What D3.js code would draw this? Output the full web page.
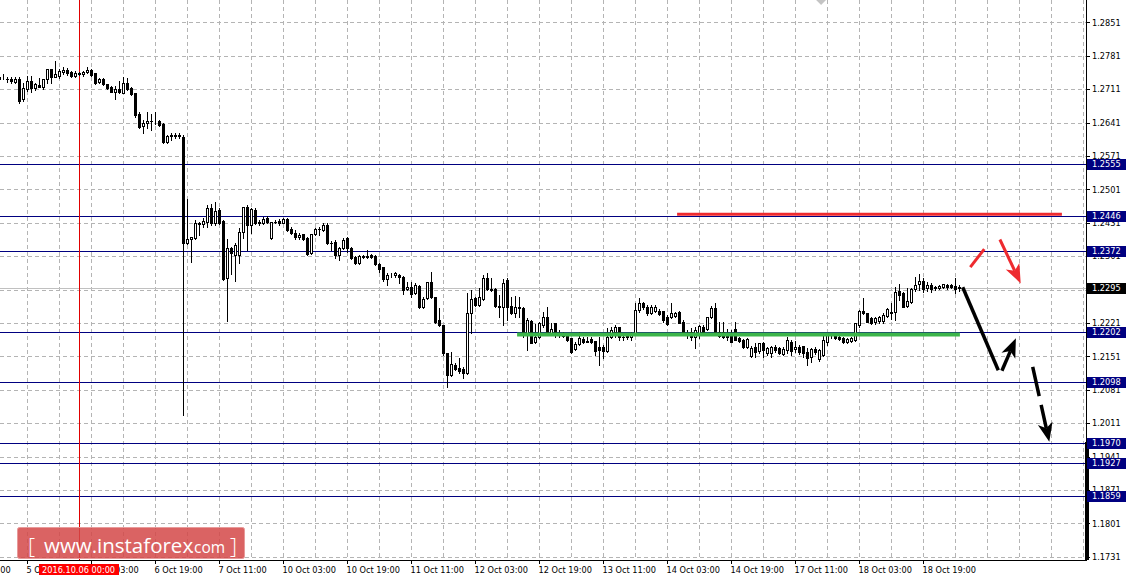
<!DOCTYPE html>
<html><head><meta charset="utf-8">
<script src="https://cdn.jsdelivr.net/npm/d3@7"></script>
<style>html,body{margin:0;padding:0;background:#fff;overflow:hidden}svg{display:block}</style>
</head><body>
<svg id="chart" width="1126" height="579"></svg>
<script>
// ---- DATA ----
// Hourly candles [open, high, low, close]; index 0 = 5 Oct 04:00
const ohlc = [
[1.2737,1.2741,1.2724,1.2732],[1.2736,1.2743,1.2732,1.2737],[1.2733,1.2737,1.2726,1.2732],[1.2733,1.2737,1.2724,1.2728],
[1.2727,1.2736,1.2725,1.2732],[1.2732,1.2736,1.2682,1.2686],[1.2691,1.2724,1.2686,1.2714],[1.2711,1.2739,1.2707,1.2728],
[1.2728,1.2739,1.2705,1.2714],[1.2714,1.2724,1.2709,1.2722],[1.2720,1.2735,1.2715,1.2716],[1.2716,1.2733,1.2711,1.2732],
[1.2732,1.2754,1.2724,1.2753],[1.2753,1.2754,1.2724,1.2737],[1.2737,1.2770,1.2736,1.2743],[1.2739,1.2753,1.2735,1.2749],
[1.2747,1.2758,1.2743,1.2751],[1.2751,1.2755,1.2741,1.2745],[1.2747,1.2749,1.2737,1.2739],[1.2739,1.2749,1.2737,1.2745],
[1.2744,1.2746,1.2741,1.2743],[1.2743,1.2749,1.2739,1.2747],[1.2747,1.2758,1.2745,1.2751],[1.2751,1.2753,1.2739,1.2741],
[1.2745,1.2745,1.2722,1.2724],[1.2726,1.2735,1.2724,1.2732],[1.2733,1.2735,1.2720,1.2722],[1.2722,1.2722,1.2712,1.2714],
[1.2716,1.2718,1.2705,1.2705],[1.2705,1.2718,1.2691,1.2711],[1.2711,1.2728,1.2703,1.2705],[1.2703,1.2737,1.2703,1.2724],
[1.2724,1.2734,1.2710,1.2711],[1.2714,1.2716,1.2699,1.2701],[1.2703,1.2703,1.2653,1.2657],[1.2659,1.2663,1.2630,1.2632],
[1.2634,1.2646,1.2619,1.2640],[1.2640,1.2663,1.2630,1.2644],[1.2645,1.2659,1.2625,1.2644],[1.2644,1.2663,1.2638,1.2645],
[1.2644,1.2646,1.2634,1.2636],[1.2638,1.2640,1.2598,1.2600],[1.2600,1.2615,1.2598,1.2613],[1.2613,1.2619,1.2605,1.2615],
[1.2615,1.2619,1.2609,1.2613],[1.2613,1.2619,1.2609,1.2615],[1.2611,1.2615,1.2028,1.2389],[1.2389,1.2481,1.2387,1.2397],
[1.2397,1.2402,1.2349,1.2401],[1.2399,1.2437,1.2397,1.2431],[1.2431,1.2432,1.2405,1.2428],[1.2428,1.2441,1.2422,1.2435],
[1.2433,1.2468,1.2422,1.2462],[1.2462,1.2470,1.2426,1.2431],[1.2431,1.2475,1.2426,1.2456],[1.2458,1.2462,1.2428,1.2431],
[1.2435,1.2437,1.2311,1.2313],[1.2315,1.2397,1.2225,1.2378],[1.2378,1.2380,1.2324,1.2368],[1.2363,1.2389,1.2309,1.2384],
[1.2363,1.2420,1.2347,1.2412],[1.2412,1.2464,1.2399,1.2464],[1.2464,1.2468,1.2374,1.2426],[1.2426,1.2462,1.2410,1.2460],
[1.2458,1.2462,1.2428,1.2431],[1.2433,1.2437,1.2426,1.2431],[1.2431,1.2443,1.2428,1.2439],[1.2441,1.2445,1.2431,1.2433],
[1.2399,1.2433,1.2397,1.2433],[1.2433,1.2437,1.2430,1.2432],[1.2435,1.2439,1.2426,1.2431],[1.2431,1.2441,1.2430,1.2439],
[1.2439,1.2441,1.2414,1.2416],[1.2418,1.2422,1.2408,1.2410],[1.2410,1.2416,1.2397,1.2401],[1.2401,1.2410,1.2397,1.2405],
[1.2408,1.2408,1.2395,1.2397],[1.2399,1.2401,1.2364,1.2366],[1.2368,1.2408,1.2366,1.2408],[1.2408,1.2420,1.2405,1.2418],
[1.2418,1.2422,1.2405,1.2417],[1.2416,1.2431,1.2414,1.2426],[1.2426,1.2431,1.2387,1.2389],[1.2389,1.2393,1.2374,1.2388],
[1.2391,1.2395,1.2357,1.2363],[1.2363,1.2380,1.2353,1.2378],[1.2378,1.2399,1.2376,1.2395],[1.2399,1.2401,1.2370,1.2378],
[1.2378,1.2380,1.2355,1.2357],[1.2359,1.2361,1.2345,1.2347],[1.2347,1.2363,1.2345,1.2361],[1.2361,1.2363,1.2357,1.2359],
[1.2359,1.2374,1.2357,1.2361],[1.2363,1.2365,1.2357,1.2359],[1.2361,1.2363,1.2343,1.2345],[1.2345,1.2347,1.2328,1.2334],
[1.2338,1.2338,1.2309,1.2313],[1.2313,1.2326,1.2300,1.2322],[1.2323,1.2326,1.2317,1.2324],[1.2322,1.2328,1.2317,1.2326],
[1.2322,1.2324,1.2305,1.2317],[1.2317,1.2319,1.2282,1.2290],[1.2292,1.2307,1.2290,1.2296],[1.2296,1.2307,1.2275,1.2282],
[1.2284,1.2305,1.2282,1.2301],[1.2299,1.2301,1.2253,1.2255],[1.2255,1.2275,1.2253,1.2271],[1.2273,1.2307,1.2271,1.2307],
[1.2307,1.2328,1.2273,1.2275],[1.2275,1.2275,1.2221,1.2223],[1.2227,1.2252,1.2215,1.2217],[1.2217,1.2217,1.2154,1.2158],
[1.2158,1.2158,1.2087,1.2112],[1.2112,1.2160,1.2110,1.2135],[1.2133,1.2137,1.2122,1.2125],[1.2127,1.2148,1.2116,1.2120],
[1.2125,1.2129,1.2106,1.2116],[1.2116,1.2284,1.2114,1.2242],[1.2242,1.2290,1.2200,1.2271],[1.2273,1.2275,1.2257,1.2259],
[1.2259,1.2294,1.2257,1.2275],[1.2271,1.2322,1.2269,1.2315],[1.2315,1.2326,1.2290,1.2292],[1.2292,1.2315,1.2288,1.2291],
[1.2292,1.2294,1.2255,1.2257],[1.2256,1.2280,1.2234,1.2255],[1.2255,1.2313,1.2217,1.2305],[1.2311,1.2315,1.2227,1.2255],
[1.2257,1.2275,1.2240,1.2242],[1.2242,1.2278,1.2234,1.2255],[1.2254,1.2275,1.2234,1.2253],[1.2253,1.2255,1.2192,1.2200],
[1.2200,1.2231,1.2164,1.2227],[1.2225,1.2227,1.2179,1.2179],[1.2181,1.2219,1.2179,1.2192],[1.2192,1.2223,1.2190,1.2221],
[1.2217,1.2244,1.2213,1.2234],[1.2234,1.2255,1.2196,1.2200],[1.2200,1.2221,1.2196,1.2208],[1.2221,1.2221,1.2192,1.2200],
[1.2196,1.2206,1.2192,1.2195],[1.2194,1.2202,1.2192,1.2193],[1.2196,1.2196,1.2183,1.2185],[1.2190,1.2190,1.2158,1.2160],
[1.2166,1.2181,1.2164,1.2177],[1.2177,1.2202,1.2175,1.2190],[1.2187,1.2192,1.2179,1.2181],[1.2183,1.2192,1.2181,1.2182],
[1.2187,1.2192,1.2179,1.2181],[1.2183,1.2183,1.2154,1.2162],[1.2171,1.2192,1.2133,1.2164],[1.2171,1.2175,1.2148,1.2162],
[1.2162,1.2211,1.2160,1.2192],[1.2192,1.2213,1.2190,1.2206],[1.2202,1.2217,1.2192,1.2213],[1.2213,1.2213,1.2185,1.2192],
[1.2192,1.2200,1.2185,1.2191],[1.2198,1.2200,1.2187,1.2192],[1.2192,1.2202,1.2185,1.2200],[1.2200,1.2263,1.2198,1.2248],
[1.2248,1.2273,1.2244,1.2263],[1.2263,1.2265,1.2250,1.2255],[1.2255,1.2259,1.2238,1.2242],[1.2242,1.2259,1.2240,1.2255],
[1.2246,1.2259,1.2244,1.2255],[1.2246,1.2250,1.2238,1.2240],[1.2246,1.2246,1.2223,1.2227],[1.2234,1.2238,1.2217,1.2219],
[1.2234,1.2263,1.2231,1.2242],[1.2236,1.2244,1.2234,1.2242],[1.2244,1.2246,1.2221,1.2221],[1.2223,1.2227,1.2198,1.2200],
[1.2200,1.2206,1.2190,1.2199],[1.2202,1.2210,1.2185,1.2192],[1.2192,1.2213,1.2169,1.2206],[1.2200,1.2217,1.2190,1.2215],
[1.2213,1.2217,1.2200,1.2202],[1.2208,1.2234,1.2206,1.2234],[1.2234,1.2257,1.2232,1.2253],[1.2253,1.2263,1.2196,1.2200],
[1.2202,1.2223,1.2192,1.2194],[1.2202,1.2223,1.2190,1.2192],[1.2200,1.2208,1.2185,1.2192],[1.2200,1.2206,1.2181,1.2181],
[1.2208,1.2223,1.2185,1.2185],[1.2190,1.2192,1.2181,1.2183],[1.2185,1.2187,1.2169,1.2171],[1.2171,1.2190,1.2169,1.2187],
[1.2152,1.2173,1.2150,1.2169],[1.2171,1.2179,1.2150,1.2160],[1.2162,1.2179,1.2158,1.2179],[1.2179,1.2181,1.2150,1.2164],
[1.2158,1.2171,1.2154,1.2169],[1.2158,1.2173,1.2150,1.2171],[1.2171,1.2175,1.2160,1.2164],[1.2169,1.2171,1.2156,1.2158],
[1.2156,1.2171,1.2154,1.2167],[1.2164,1.2192,1.2158,1.2185],[1.2181,1.2185,1.2154,1.2162],[1.2167,1.2183,1.2160,1.2171],
[1.2171,1.2175,1.2156,1.2160],[1.2173,1.2173,1.2150,1.2158],[1.2160,1.2169,1.2133,1.2148],[1.2150,1.2169,1.2139,1.2167],
[1.2167,1.2171,1.2156,1.2160],[1.2146,1.2167,1.2141,1.2164],[1.2154,1.2194,1.2152,1.2185],[1.2181,1.2200,1.2175,1.2196],
[1.2196,1.2200,1.2190,1.2195],[1.2194,1.2198,1.2188,1.2190],[1.2192,1.2194,1.2185,1.2187],[1.2190,1.2192,1.2179,1.2181],
[1.2181,1.2190,1.2179,1.2187],[1.2183,1.2192,1.2181,1.2190],[1.2185,1.2221,1.2183,1.2221],[1.2217,1.2248,1.2213,1.2246],
[1.2246,1.2273,1.2240,1.2242],[1.2242,1.2242,1.2223,1.2223],[1.2231,1.2234,1.2219,1.2221],[1.2223,1.2234,1.2219,1.2231],
[1.2225,1.2236,1.2221,1.2234],[1.2225,1.2242,1.2221,1.2238],[1.2236,1.2252,1.2234,1.2250],[1.2244,1.2263,1.2229,1.2243],
[1.2244,1.2296,1.2227,1.2286],[1.2288,1.2303,1.2269,1.2280],[1.2284,1.2286,1.2255,1.2255],[1.2257,1.2294,1.2255,1.2267],
[1.2265,1.2294,1.2263,1.2292],[1.2292,1.2317,1.2288,1.2301],[1.2303,1.2324,1.2290,1.2309],[1.2309,1.2315,1.2286,1.2292],
[1.2294,1.2307,1.2288,1.2301],[1.2301,1.2305,1.2286,1.2292],[1.2296,1.2299,1.2290,1.2295],[1.2294,1.2301,1.2292,1.2299],
[1.2296,1.2303,1.2294,1.2303],[1.2301,1.2303,1.2292,1.2296],[1.2301,1.2303,1.2294,1.2296],[1.2299,1.2315,1.2284,1.2292],
[1.2296,1.2301,1.2288,1.2295]
];
// time axis labels (candle index, text)
const timeTickIndex = [-9, 7, 23, 39, 55, 71, 87, 103, 119, 135, 151, 167, 183, 199, 215, 231];
const timeTickLabels = ["4 Oct 19:00","5 Oct 11:00","6 Oct 03:00","6 Oct 19:00","7 Oct 11:00","10 Oct 03:00",
  "10 Oct 19:00","11 Oct 11:00","12 Oct 03:00","12 Oct 19:00","13 Oct 11:00","14 Oct 03:00","14 Oct 19:00",
  "17 Oct 11:00","18 Oct 03:00","18 Oct 19:00"];
// price axis ticks
const priceTicks = [1.2851,1.2781,1.2711,1.2641,1.2571,1.2501,1.2431,1.2361,1.2291,1.2221,1.2151,1.2081,1.2011,1.1941,1.1871,1.1801,1.1731];
const priceTickLabels = ["1.2851","1.2781","1.2711","1.2641","1.2571","1.2501","1.2431","1.2361","1.2291","1.2221","1.2151","1.2081","1.2011","1.1941","1.1871","1.1801","1.1731"];
// horizontal levels
const levelPrices = [1.2555, 1.2446, 1.2372, 1.2202, 1.2098, 1.1970, 1.1927, 1.1859];
const levelLabels = ["1.2555","1.2446","1.2372","1.2202","1.2098","1.1970","1.1927","1.1859"];
const currentPrice = 1.2295, currentLabel = "1.2295";
// crosshair
const crosshairIndex = 20, crosshairLabel = "2016.10.06 00:00";
// drawn annotations (candle index, price)
const redLevel = [[169.4, 1.2449], [265.6, 1.2449]];
const greenLevel = [[129.4, 1.2197], [240.1, 1.2197]];
const blackPath = [[240.8, 1.2296], [249.7, 1.2122]];
const blackArrow = [[250.6, 1.2121], [254.1, 1.2189]];
const redStroke = [[242.7, 1.2338], [246.2, 1.2376]];
const redArrow = [[250.1, 1.2396], [255.3, 1.2304]];
const dashedArrow = [[258.3, 1.2129], [262.45, 1.1972]];
const topMarker = [205.4, 1.2898];

// ---- LAYOUT ----
const plotR = 1086, plotB = 560;
const svg = d3.select('#chart');
const x = d3.scaleLinear().domain([0, 1]).range([-0.5, 3.5]);
const y = d3.scaleLinear().domain([1.1731, 1.2851]).range([556.8, 22.4]);
const cy = p => Math.round(y(p)) + 0.5;
const FONT = "'DejaVu Sans', sans-serif";
const FS = 8.2;

svg.append('rect').attr('width', 1126).attr('height', 579).attr('fill', '#fff');
svg.append('defs').append('clipPath').attr('id', 'clip')
  .append('rect').attr('x', 0).attr('y', 0).attr('width', plotR).attr('height', plotB);
const plot = svg.append('g').attr('clip-path', 'url(#clip)');

// grid
const gridX = d3.range(7, 272, 8);
plot.append('g').selectAll('line').data(gridX).join('line')
  .attr('x1', d => x(d)).attr('x2', d => x(d)).attr('y1', 0).attr('y2', plotB)
  .attr('stroke', '#b4b4b4').attr('stroke-dasharray', '4,3').attr('shape-rendering', 'crispEdges');
plot.append('g').selectAll('line').data(priceTicks).join('line')
  .attr('x1', 0).attr('x2', plotR).attr('y1', d => cy(d)).attr('y2', d => cy(d))
  .attr('stroke', '#b4b4b4').attr('stroke-dasharray', '4,3').attr('shape-rendering', 'crispEdges');

// small marker at top edge
const mx0 = x(topMarker[0]), my0 = y(topMarker[1]);
plot.append('path').attr('d', `M${mx0 - 5},${my0}L${mx0},${my0 + 5}L${mx0 + 5},${my0}L${mx0},${my0 - 5}Z`).attr('fill', '#c4c4c4');

// bid line
plot.append('line').attr('x1', 0).attr('x2', plotR).attr('y1', cy(currentPrice)).attr('y2', cy(currentPrice))
  .attr('stroke', '#c0c0c0').attr('shape-rendering', 'crispEdges');

// levels
plot.append('g').selectAll('line').data(levelPrices).join('line')
  .attr('x1', 0).attr('x2', plotR).attr('y1', d => cy(d)).attr('y2', d => cy(d))
  .attr('stroke', '#000080').attr('shape-rendering', 'crispEdges');

// crosshair vertical
plot.append('line').attr('x1', x(crosshairIndex)).attr('x2', x(crosshairIndex)).attr('y1', 0).attr('y2', plotB)
  .attr('stroke', '#e00000').attr('shape-rendering', 'crispEdges');

// candles
const bars = ohlc.map((d, i) => ({i, o: d[0], h: d[1], l: d[2], c: d[3]}));
const cg = plot.append('g').attr('shape-rendering', 'crispEdges');
cg.append('g').selectAll('line').data(bars).join('line')
  .attr('x1', d => x(d.i)).attr('x2', d => x(d.i))
  .attr('y1', d => Math.round(y(d.h))).attr('y2', d => Math.round(y(d.l)) + 1)
  .attr('stroke', '#000');
cg.append('g').selectAll('rect').data(bars.filter(d => d.c >= d.o)).join('rect')
  .attr('x', d => x(d.i) - 1).attr('width', 2)
  .attr('y', d => cy(d.c)).attr('height', d => Math.max(0, cy(d.o) - cy(d.c)))
  .attr('fill', '#fff').attr('stroke', '#000');
cg.append('g').selectAll('rect').data(bars.filter(d => d.c < d.o)).join('rect')
  .attr('x', d => x(d.i) - 1.5).attr('width', 3)
  .attr('y', d => Math.round(y(d.o))).attr('height', d => Math.max(1, Math.round(y(d.c)) - Math.round(y(d.o)) + 1))
  .attr('fill', '#000');

// annotations
const line = d3.line().x(d => x(d[0])).y(d => y(d[1]));
plot.append('path').attr('d', line(greenLevel)).attr('stroke', '#3cb54a').attr('stroke-width', 4).attr('fill', 'none');
plot.append('path').attr('d', line(redLevel)).attr('stroke', '#ee2a2f').attr('stroke-width', 3).attr('fill', 'none');
plot.append('path').attr('d', line(redStroke)).attr('stroke', '#ee2a2f').attr('stroke-width', 3).attr('fill', 'none');
plot.append('path').attr('d', line(blackPath)).attr('stroke', '#000').attr('stroke-width', 3.5).attr('fill', 'none');

function arrow(pts, color, width, dash) {
  const x0 = x(pts[0][0]), y0 = y(pts[0][1]), x1 = x(pts[1][0]), y1 = y(pts[1][1]);
  const dx = x1 - x0, dy = y1 - y0, len = Math.hypot(dx, dy);
  const ux = dx / len, uy = dy / len, nx = -uy, ny = ux;
  const L = 19, Wd = 7.5, notch = 5;
  const bx = x1 - ux * L, by = y1 - uy * L;
  const mx = x1 - ux * (L - notch), my = y1 - uy * (L - notch);
  const p = plot.append('path').attr('d', `M${x0},${y0}L${mx},${my}`)
    .attr('stroke', color).attr('stroke-width', width).attr('fill', 'none');
  if (dash) p.attr('stroke-dasharray', dash);
  plot.append('path')
    .attr('d', `M${x1},${y1}L${bx + nx * Wd},${by + ny * Wd}L${mx},${my}L${bx - nx * Wd},${by - ny * Wd}Z`)
    .attr('fill', color);
}
arrow(redArrow, '#ee2a2f', 3);
arrow(blackArrow, '#000', 3.5);
arrow(dashedArrow, '#000', 3.5, '30,9');

// axes
svg.append('line').attr('x1', plotR + 0.5).attr('x2', plotR + 0.5).attr('y1', 0).attr('y2', plotB + 1)
  .attr('stroke', '#000').attr('shape-rendering', 'crispEdges');
svg.append('line').attr('x1', 0).attr('x2', plotR + 1).attr('y1', plotB + 0.5).attr('y2', plotB + 0.5)
  .attr('stroke', '#000').attr('shape-rendering', 'crispEdges');
svg.append('rect').attr('x', plotR - 1).attr('y', 442).attr('width', 4).attr('height', plotB - 442).attr('fill', '#000');

// price axis ticks + labels
const ya = svg.append('g');
ya.selectAll('line').data(priceTicks).join('line')
  .attr('x1', plotR).attr('x2', plotR + 4).attr('y1', d => cy(d)).attr('y2', d => cy(d))
  .attr('stroke', '#000').attr('shape-rendering', 'crispEdges');
ya.selectAll('text').data(priceTicks).join('text')
  .attr('x', 1092).attr('y', d => y(d) + 3.2).text((d, i) => priceTickLabels[i])
  .attr('font-family', FONT).attr('font-size', FS).attr('fill', '#000');

// time axis
const xa = svg.append('g');
xa.selectAll('line').data(timeTickIndex).join('line')
  .attr('x1', d => x(d)).attr('x2', d => x(d)).attr('y1', plotB).attr('y2', plotB + 4)
  .attr('stroke', '#000').attr('shape-rendering', 'crispEdges');
xa.selectAll('text').data(timeTickIndex).join('text')
  .attr('x', d => x(d) - 1).attr('y', 573).text((d, i) => timeTickLabels[i])
  .attr('font-family', FONT).attr('font-size', FS).attr('fill', '#000');

// price boxes
const boxes = levelPrices.map((p, i) => ({p, t: levelLabels[i], c: '#000080'}))
  .concat([{p: currentPrice, t: currentLabel, c: '#000'}]);
const bg = svg.append('g').selectAll('g').data(boxes).join('g');
bg.append('rect').attr('x', 1087).attr('y', d => Math.round(y(d.p)) - 5).attr('width', 39).attr('height', 11).attr('fill', d => d.c);
bg.append('text').attr('x', 1092).attr('y', d => y(d.p) + 3.2).text(d => d.t)
  .attr('font-family', FONT).attr('font-size', FS).attr('fill', '#fff');

// watermark
const wm = svg.append('g');
wm.append('rect').attr('x', 17.5).attr('y', 527.5).attr('width', 227).attr('height', 31).attr('rx', 2)
  .attr('fill', '#d44848').attr('fill-opacity', 0.85).attr('stroke', '#e89a9a').attr('stroke-width', 1);
wm.append('text').attr('x', 28).attr('y', 554).attr('fill', '#fff').attr('font-family', "'Open Sans', sans-serif").attr('font-size', 22).attr('font-weight', 300).text('[');
wm.append('text').attr('x', 44).attr('y', 553).attr('fill', '#fff').attr('font-family', "'Open Sans', sans-serif").attr('font-size', 20.5).text('www.instaforex');
wm.append('text').attr('x', 190).attr('y', 553).attr('fill', '#fff').attr('font-family', "'Open Sans', sans-serif").attr('font-size', 15.5).text('.com');
wm.append('text').attr('x', 230).attr('y', 554).attr('fill', '#fff').attr('font-family', "'Open Sans', sans-serif").attr('font-size', 22).attr('font-weight', 300).text(']');

// crosshair date label
svg.append('rect').attr('x', 39).attr('y', 564).attr('width', 80).attr('height', 11).attr('fill', '#ff0000');
svg.append('text').attr('x', 42).attr('y', 572.5).text(crosshairLabel)
  .attr('font-family', FONT).attr('font-size', FS).attr('fill', '#fff');
</script>
</body></html>
